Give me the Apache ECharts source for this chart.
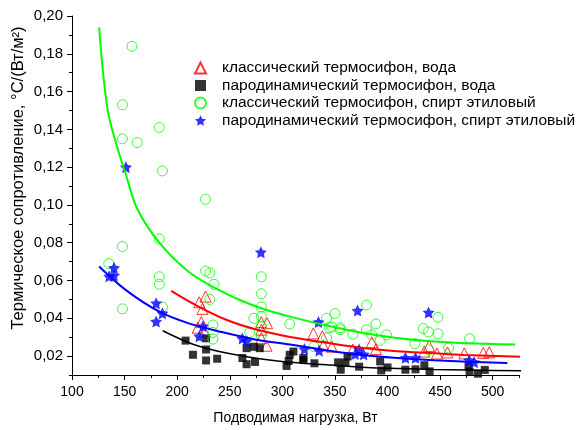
<!DOCTYPE html>
<html>
<head>
<meta charset="utf-8">
<script src="https://cdn.jsdelivr.net/npm/echarts@6/dist/echarts.min.js"></script>
<style>
html,body{margin:0;padding:0;background:#fff;}
#c{width:581px;height:430px;}
</style>
</head>
<body>
<div id="c"></div>
<script>
// ---- data ----
const seriesNames = [
  'классический термосифон, вода',
  'пародинамический термосифон, вода',
  'классический термосифон, спирт этиловый',
  'пародинамический термосифон, спирт этиловый'
];
const xTickLabels = [100,150,200,250,300,350,400,450,500];
const xMinorTicks = [125,175,225,275,325,375,425,475,525];
const yTickLabels = [0.02,0.04,0.06,0.08,0.10,0.12,0.14,0.16,0.18,0.20];
const yMinorTicks = [0.01,0.03,0.05,0.07,0.09,0.11,0.13,0.15,0.17,0.19];

const classicWater = [
  [227,0.0515],[221,0.0485],[224,0.045],[223,0.038],[219.5,0.035],[226,0.033],
  [280,0.038],[285.5,0.0374],[280,0.034],[280,0.0295],[285,0.0255],
  [329.5,0.032],[338,0.0305],[339,0.0256],[347,0.025],
  [367,0.0235],[385,0.0273],[389,0.0237],[435,0.0224],[439.5,0.0254],
  [447,0.0214],[457,0.0219],[473,0.0214],[491,0.0217],[496.7,0.022]
];
const steamWater = [
  [208,0.0282],[215,0.0207],[227.5,0.0294],[227.5,0.0235],[227.5,0.0177],[238,0.0186],
  [262,0.019],[266,0.0242],[273,0.0249],[278.5,0.0242],[266,0.0157],[274,0.0169],
  [304,0.0148],[307,0.0207],[310.5,0.0224],[306,0.0174],[320,0.019],[320,0.0179],[330.5,0.0162],
  [353,0.0167],[355.5,0.0128],[360,0.0166],[362,0.0198],[373,0.0144],[393,0.0172],
  [394,0.0124],[400,0.014],[417,0.0128],[426.6,0.013],[435,0.0152],[440,0.0119],
  [477,0.0145],[478,0.0118],[486,0.0107],[492.5,0.0127]
];
const classicAlcohol = [
  [157,0.184],[148,0.153],[183,0.141],[148,0.135],[162,0.133],[186,0.118],[227,0.103],
  [183,0.082],[148,0.078],[135,0.069],[183,0.062],[183,0.058],[148,0.045],
  [227,0.065],[231,0.064],[235,0.058],[231,0.050],[186,0.046],[234,0.0365],[234,0.0325],[234,0.029],
  [280,0.062],[280,0.053],[280,0.046],[280,0.041],[280,0.0355],[280,0.031],[273,0.040],[269,0.0325],
  [307,0.037],[330,0.025],[342,0.040],[345,0.035],[342,0.0296],
  [350,0.0425],[380,0.047],[347,0.0355],[355,0.035],[355,0.034],[367,0.0316],[380,0.034],
  [389,0.037],[385,0.0313],[399,0.0312],[393,0.0283],[426,0.0266],[434,0.0346],[439,0.0328],
  [448,0.0318],[448,0.0405],[439,0.0233],[458,0.0243],[478,0.0292]
];
const steamAlcohol = [
  [151.3,0.12],[135.3,0.0622],[140,0.0667],[140,0.0627],[180,0.048],[180,0.0383],[186,0.0427],
  [224.5,0.0358],[221,0.0305],[279.6,0.075],[262,0.0293],[266,0.0279],[321,0.0237],[335,0.0229],
  [334.3,0.038],[371.5,0.0441],[439,0.0431],[369.3,0.0211],[373,0.0235],[377.3,0.0209],
  [417,0.0191],[426.6,0.0191],[477.6,0.0178],[482.4,0.0168]
];

const fitClassicWater = [[194.3,0.0545],[214.7,0.0479],[246,0.0394],[277,0.0338],[309,0.0300],[345,0.0268],[377,0.0243],[409,0.0226],[441,0.0216],[473,0.0206],[531,0.0196]];
const fitSteamWater = [[186.3,0.0334],[215,0.0263],[246.8,0.0216],[278.6,0.0186],[310.5,0.0166],[342,0.0154],[380.5,0.0140],[412.3,0.0134],[444,0.0129],[476,0.0126],[538,0.0121]];
const fitClassicAlcohol = [[125.8,0.194],[133.7,0.151],[143.3,0.130],[151.3,0.116],[162,0.098],[183,0.080],[210,0.065],[234,0.0566],[259.5,0.0497],[285,0.0444],[307.3,0.0409],[339,0.0366],[377.3,0.0322],[409,0.0296],[441,0.0278],[472.8,0.0268],[521.4,0.0262]];
const fitSteamAlcohol = [[125.8,0.0674],[151.3,0.0549],[183,0.0435],[211.7,0.0372],[243.6,0.0326],[275.4,0.0287],[307.3,0.0261],[343,0.0230],[380.5,0.0203],[412,0.0189],[444,0.0178],[476,0.0170],[514,0.0164]];

// ---- chart ----
const FONT = '"Liberation Sans", Arial, sans-serif';
const starPath = 'path://M0,-10 L2.94,-4.05 L9.51,-3.09 L4.76,1.55 L5.88,8.09 L0,5 L-5.88,8.09 L-4.76,1.55 L-9.51,-3.09 L-2.94,-4.05 Z';
const chart = echarts.init(document.getElementById('c'), null, {renderer:'canvas'});
const fmt = v => v.toFixed(2).replace('.', ',');

function fitLine(name, data, color, w) {
  return {
    name: name, type: 'line', data: data, smooth: 0.35, showSymbol: false, clip: false,
    lineStyle: {color: color, width: w}, itemStyle: {color: color}, silent: true, z: 3
  };
}

const option = {
  animation: false,
  backgroundColor: '#fff',
  textStyle: {fontFamily: FONT},
  grid: {left: 72, right: 62, top: 16, bottom: 50},
  legend: {
    orient: 'vertical', left: 194, top: 60, padding: 0, itemGap: 1.5,
    itemWidth: 11, itemHeight: 11,
    data: seriesNames,
    textStyle: {fontFamily: FONT, fontSize: 15.5, color: '#000', padding: [0,0,0,11]}
  },
  xAxis: [
    {
      type: 'value', min: 100, max: 525, position: 'bottom',
      name: 'Подводимая нагрузка, Вт', nameLocation: 'middle', nameGap: 36,
      nameTextStyle: {fontFamily: FONT, fontSize: 14, color: '#000'},
      axisLine: {lineStyle: {color: '#000', width: 1}},
      axisTick: {length: 5, lineStyle: {color: '#000'}, customValues: xTickLabels},
      axisLabel: {fontFamily: FONT, fontSize: 14, color: '#000', margin: 10, customValues: xTickLabels},
      splitLine: {show: false}
    },
    {
      type: 'value', min: 100, max: 525, position: 'bottom',
      axisLine: {show: false},
      axisTick: {length: 3, lineStyle: {color: '#000'}, customValues: xMinorTicks},
      axisLabel: {show: false},
      splitLine: {show: false}
    }
  ],
  yAxis: [
    {
      type: 'value', min: 0.01, max: 0.20, position: 'left',
      axisLine: {show: true, lineStyle: {color: '#000', width: 1}},
      axisTick: {show: true, length: 5, lineStyle: {color: '#000'}, customValues: yTickLabels},
      axisLabel: {fontFamily: FONT, fontSize: 15, color: '#000', margin: 9, customValues: yTickLabels, formatter: fmt},
      splitLine: {show: false}
    },
    {
      type: 'value', min: 0.01, max: 0.20, position: 'left',
      axisLine: {show: false},
      axisTick: {show: true, length: 3, lineStyle: {color: '#000'}, customValues: yMinorTicks},
      axisLabel: {show: false},
      splitLine: {show: false}
    }
  ],
  graphic: [{
    type: 'text', x: 18, y: 178, rotation: Math.PI / 2,
    style: {
      text: 'Термическое сопротивление, °С/(Вт/м²)',
      fontFamily: FONT, fontSize: 16.5, fill: '#000',
      textAlign: 'center', textVerticalAlign: 'middle'
    }
  }],
  series: [
    {
      name: seriesNames[0], type: 'scatter', data: classicWater, symbol: 'triangle', symbolSize: 11,
      itemStyle: {color: 'rgba(255,255,255,0)', borderColor: '#ff0000', borderWidth: 1}, z: 2
    },
    {
      name: seriesNames[1], type: 'scatter', data: steamWater, symbol: 'rect', symbolSize: 8,
      itemStyle: {color: '#000'}, z: 2
    },
    {
      name: seriesNames[2], type: 'scatter', data: classicAlcohol, symbol: 'circle', symbolSize: 10,
      itemStyle: {color: 'rgba(255,255,255,0)', borderColor: '#00ff00', borderWidth: 1}, z: 2
    },
    {
      name: seriesNames[3], type: 'scatter', data: steamAlcohol, symbol: starPath, symbolSize: 12,
      itemStyle: {color: '#0000ff'}, z: 2
    },
    fitLine('fit1', fitClassicWater, '#ff0000', 2),
    fitLine('fit2', fitSteamWater, '#000000', 1.5),
    fitLine('fit3', fitClassicAlcohol, '#00ff00', 2),
    fitLine('fit4', fitSteamAlcohol, '#0000ff', 2)
  ]
};
chart.setOption(option);
</script>
</body>
</html>
